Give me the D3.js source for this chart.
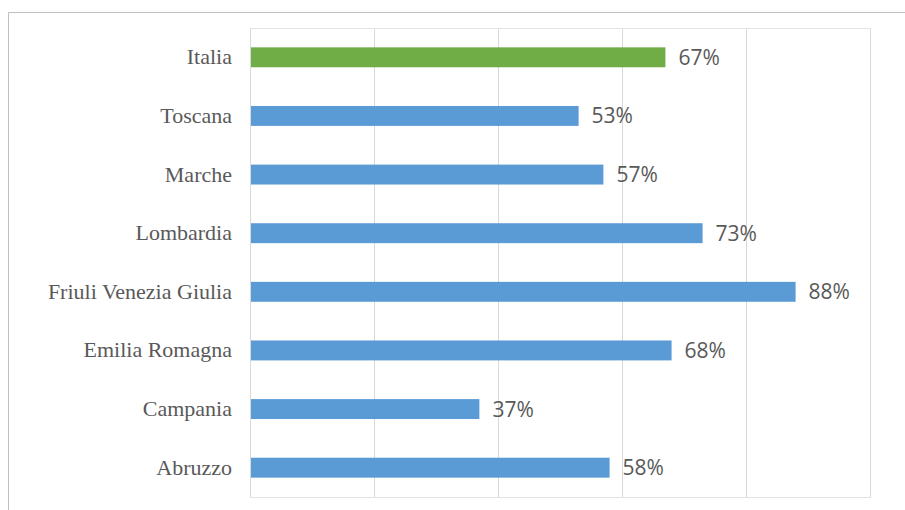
<!DOCTYPE html>
<html>
<head>
<meta charset="utf-8">
<script src="https://cdn.jsdelivr.net/npm/d3@7"></script>
<style>
  html, body { margin: 0; padding: 0; background: #fff; }
  svg { display: block; }
</style>
</head>
<body>
<svg id="chart" width="905" height="510"></svg>
<script>
// Regions, top to bottom
const regions = ["Italia", "Toscana", "Marche", "Lombardia", "Friuli Venezia Giulia", "Emilia Romagna", "Campania", "Abruzzo"];
// Share (percent) for each region
const shares = [67, 53, 57, 73, 88, 68, 37, 58];
// Gridline ticks (percent)
const ticks = [0, 20, 40, 60, 80, 100];
const highlight = "Italia";

const svg = d3.select("#chart");
const W = 905, H = 510;

// outer frame
svg.append("path")
  .attr("d", `M8.5,${H} V12.5 H${W}`)
  .attr("fill", "none").attr("stroke", "#bfbfbf").attr("stroke-width", 1);

const plot = { left: 250, right: 870, top: 28, bottom: 497 };

const x = d3.scaleLinear().domain([0, 100]).range([plot.left, plot.right]);
const y = d3.scaleBand().domain(regions).range([plot.top, plot.bottom]).paddingInner(0.66).paddingOuter(0.33);

// vertical gridlines
svg.append("g").selectAll("line").data(ticks).join("line")
  .attr("x1", d => Math.round(x(d)) + 0.5).attr("x2", d => Math.round(x(d)) + 0.5)
  .attr("y1", plot.top).attr("y2", plot.bottom)
  .attr("stroke", "#d9d9d9").attr("stroke-width", 1);

// top and bottom edges of the plot area
svg.append("g").selectAll("line").data([plot.top, plot.bottom]).join("line")
  .attr("x1", plot.left).attr("x2", plot.right + 1)
  .attr("y1", d => d + 0.5).attr("y2", d => d + 0.5)
  .attr("stroke", "#e3e3e3").attr("stroke-width", 1);

// bars
svg.append("g").selectAll("rect").data(regions).join("rect")
  .attr("x", x(0) + 1)
  .attr("y", d => y(d))
  .attr("width", (d, i) => x(shares[i]) - x(0) - 1)
  .attr("height", y.bandwidth())
  .attr("fill", d => d === highlight ? "#70ad47" : "#5b9bd5");

// value labels
svg.append("g").selectAll("text").data(regions).join("text")
  .attr("x", (d, i) => x(shares[i]) + 13)
  .attr("y", d => y(d) + y.bandwidth() / 2)
  .attr("dy", "0.36em")
  .attr("font-family", "'Open Sans', sans-serif")
  .attr("font-size", 21)
  .attr("fill", "#595959")
  .text((d, i) => shares[i] + "%");

// category labels
const yAxis = d3.axisLeft(y).tickSize(0).tickPadding(18);
const ga = svg.append("g").attr("transform", `translate(${plot.left},0)`).call(yAxis);
ga.select(".domain").remove();
ga.selectAll("text")
  .attr("font-family", "'Liberation Serif', serif")
  .attr("font-size", 22)
  .attr("fill", "#595959");
</script>
</body>
</html>
